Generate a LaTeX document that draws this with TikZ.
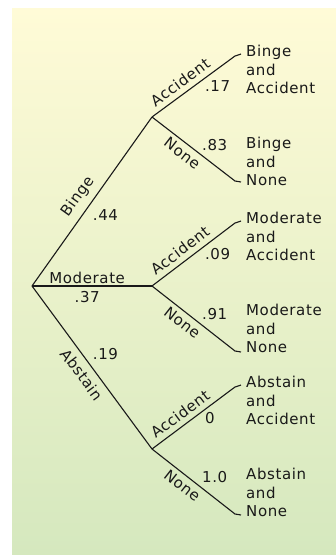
\documentclass[tikz,border=0pt]{standalone}
\usepackage{fontspec}
\setmainfont{DejaVu Sans}[LetterSpace=4]
\usepackage{xcolor}
\usetikzlibrary{positioning}
\definecolor{bgtop}{RGB}{255, 251, 215}
\definecolor{bgbottom}{RGB}{213, 232, 190}
\definecolor{ink}{RGB}{25, 25, 25}

\begin{document}
\begin{tikzpicture}[
    x=1pt, y=-1pt,
    branch/.style={draw=ink, line width=1.1pt, line join=miter},
    lbl/.style={font=\fontsize{15}{18}\selectfont, text=ink, inner sep=2pt},
    leaf/.style={
        lbl, align=left, anchor=north west, inner sep=0pt,
        font=\fontsize{15}{18.5}\selectfont
    },
    probup/.style={lbl, pos=0.62, anchor=north west, inner sep=1pt},
    probdown/.style={lbl, pos=0.55, anchor=south west, inner sep=1pt, xshift=3pt}
]

\useasboundingbox (0,0) rectangle (336,555);
\shade[top color=bgtop, bottom color=bgbottom] (12,8) rectangle (336,555);

% branch points
\coordinate (root) at (32,286);
\coordinate (binge) at (152,117);
\coordinate (moderate) at (152,286);
\coordinate (abstain) at (152,449);

% outcomes
\node[leaf] (bingeacc) at (246,45) {Binge\\and\\Accident};
\node[leaf] (bingenone) at (246,137) {Binge\\and\\None};
\node[leaf] (modacc) at (246,212) {Moderate\\and\\Accident};
\node[leaf] (modnone) at (246,304) {Moderate\\and\\None};
\node[leaf] (absacc) at (246,376) {Abstain\\and\\Accident};
\node[leaf] (absnone) at (246,468) {Abstain\\and\\None};

\coordinate (bingeaccend) at (235,56);
\coordinate (bingenoneend) at (235,181);
\coordinate (modaccend) at (235,223);
\coordinate (modnoneend) at (235,351);
\coordinate (absaccend) at (235,387);
\coordinate (absnoneend) at (235,514);

% first stage
\draw[branch] (root) -- node[lbl, sloped, above=4pt, pos=0.48] {Binge}
    node[lbl, pos=0.42, right=8pt] {.44} (binge);
\draw[branch] (root) -- node[lbl, above, pos=0.46] {Moderate}
    node[lbl, below=3pt, pos=0.46] {.37} (moderate);
\draw[branch] (root) -- node[lbl, sloped, below=4pt, pos=0.5] {Abstain}
    node[lbl, pos=0.42, right=8pt] {.19} (abstain);

% second stage
\draw[branch] (binge) -- node[lbl, sloped, above=3pt, pos=0.42] {Accident}
    node[probup] {.17} (bingeaccend) -- ++(6,-2);
\draw[branch] (binge) -- node[lbl, sloped, below=2pt, pos=0.44] {None}
    node[probdown] {.83} (bingenoneend) -- ++(6,1);
\draw[branch] (moderate) -- node[lbl, sloped, above=3pt, pos=0.42] {Accident}
    node[probup] {.09} (modaccend) -- ++(6,-2);
\draw[branch] (moderate) -- node[lbl, sloped, below=2pt, pos=0.44] {None}
    node[probdown] {.91} (modnoneend) -- ++(6,1);
\draw[branch] (abstain) -- node[lbl, sloped, above=3pt, pos=0.42] {Accident}
    node[probup] {0} (absaccend) -- ++(6,-2);
\draw[branch] (abstain) -- node[lbl, sloped, below=2pt, pos=0.44] {None}
    node[probdown] {1.0} (absnoneend) -- ++(6,1);

\end{tikzpicture}
\end{document}
